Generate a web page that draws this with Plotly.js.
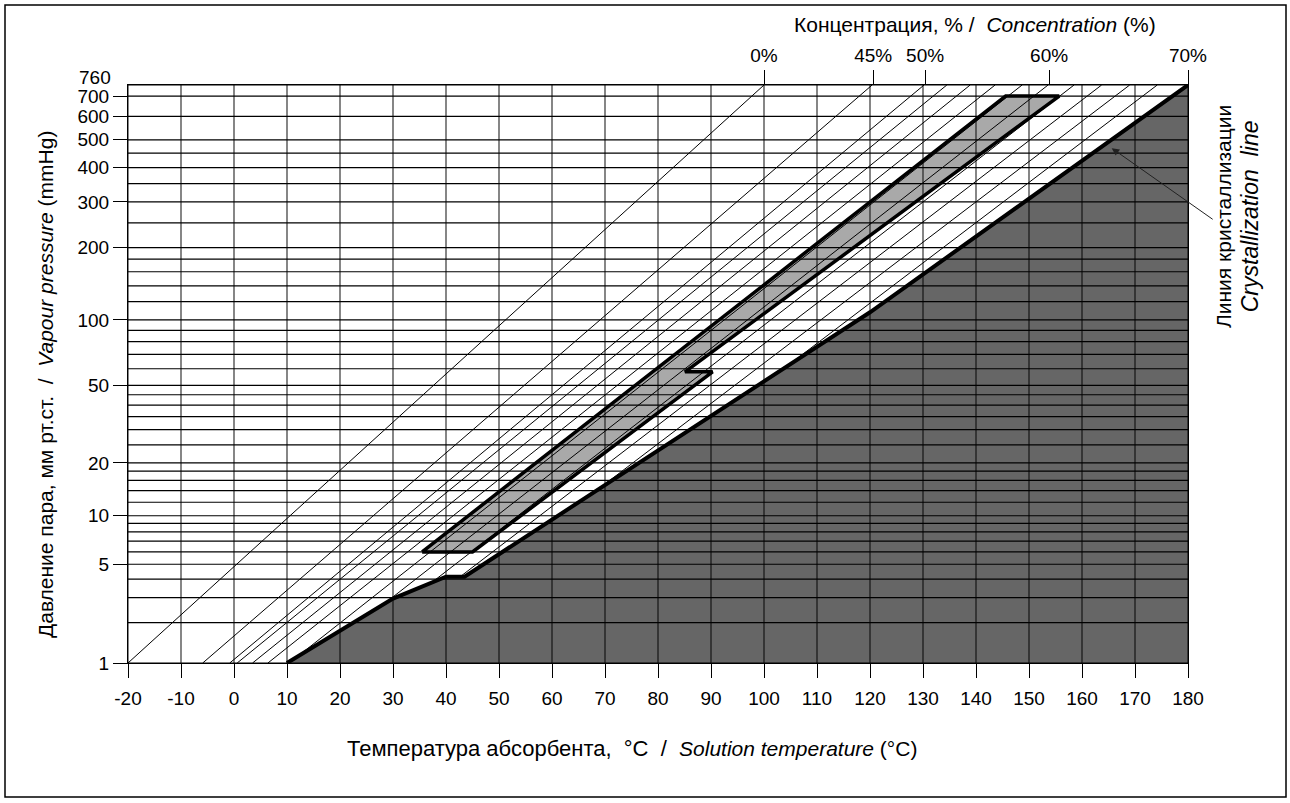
<!DOCTYPE html>
<html>
<head>
<meta charset="utf-8">
<script src="https://cdn.plot.ly/plotly-3.0.1.min.js"></script>
<style>
  html, body { margin: 0; padding: 0; background: #fff; }
  #chart { width: 1290px; height: 803px; }
</style>
</head>
<body>
<div id="chart"></div>
<script>
// ---------- DATA ----------
// x axis: solution temperature, °C
const xTickVals = [-20,-10,0,10,20,30,40,50,60,70,80,90,100,110,120,130,140,150,160,170,180];

// y axis: vapour pressure, mmHg (labelled and unlabelled grid lines)
const yLabelVals = [1,5,10,20,50,100,200,300,400,500,600,700];
const yGridMinor = [2,3,4,6,7,8,9,12,14,16,18,25,30,35,40,45,60,70,80,90,120,140,160,180,250,350,450,760];

// concentration (Dühring) lines: start point (T, P) and end temperature at P = 760 mmHg
const concPct    = [0, 45, 50, 52, 54, 56, 58, 60, 62, 64, 66, 68];
const concStartT = [-20, -5.9, -0.8, 0.6, 3.5, 6.4, 11.6, 27.2, 36.7, 42.7, 69.8, 105.9];
const concStartP = [1, 1, 1, 1, 1, 1, 1.09, 2.52, 3.65, 4.15, 15.1, 66];
const concEndT   = [100, 120.4, 130.2, 134.5, 138.9, 143.6, 148.7, 153.6, 158.5, 163.7, 169, 174.2];
const concEndP   = 760;

// top concentration scale labels
const topTickT    = [100, 120.6, 130.4, 153.8, 180];
const topTickText = ['0%', '45%', '50%', '60%', '70%'];

// crystallization line
const crystT = [10, 30, 40, 43.5, 120, 180];
const crystP = [1, 2.95, 4.15, 4.15, 108, 760];

// operating band (light grey polygon)
const bandT = [35.5, 45, 90.3, 85.1, 155.7, 145.6, 35.5];
const bandP = [6, 6, 58, 58, 700, 700, 6];

// ---------- PRESSURE SCALE ----------
// The chart's vertical scale is linear in water saturation temperature (Antoine equation, mmHg)
function yScale(p) { return 1730.63 / (8.07131 - Math.log10(p)) - 233.426; }

const FONT = 'Liberation Sans, Arial, sans-serif';
const Y0 = yScale(1), Y1 = yScale(760);

function pathFrom(ts, ps) {
  return ts.map((t, i) => (i ? 'L' : 'M') + t + ',' + yScale(ps[i])).join(' ') + ' Z';
}

const traces = [];

// thin concentration lines
const lx = [], ly = [];
for (let i = 0; i < concPct.length; i++) {
  lx.push(concStartT[i], concEndT[i], null);
  ly.push(yScale(concStartP[i]), yScale(concEndP), null);
}
traces.push({
  x: lx, y: ly, mode: 'lines', line: { color: '#000', width: 1 },
  hoverinfo: 'skip', showlegend: false
});

// crystallization line (thick)
traces.push({
  x: crystT, y: crystP.map(yScale), mode: 'lines',
  line: { color: '#000', width: 4 }, hoverinfo: 'skip', showlegend: false
});

// band border (thick)
traces.push({
  x: bandT, y: bandP.map(yScale), mode: 'lines',
  line: { color: '#000', width: 3.5 }, hoverinfo: 'skip', showlegend: false
});

// invisible trace to carry the top concentration axis
traces.push({
  x: [-20, 180], y: [Y0, Y0], xaxis: 'x2', mode: 'markers',
  marker: { opacity: 0 }, hoverinfo: 'skip', showlegend: false
});

const L = 128, R = 102, T = 85, B = 140, PW = 1060, PH = 578;
const px = v => (v - L) / PW;          // pixel -> paper x
const py = v => (803 - B - v) / PH;    // pixel -> paper y
const NB = '\u00A0';

// shapes: fills first, then the grid drawn above everything (as in the reference)
const shapes = [
  { type: 'path', xref: 'x', yref: 'y', layer: 'below',
    path: pathFrom(crystT.concat([180]), crystP.concat([1])),
    fillcolor: '#666666', line: { width: 0 } },
  { type: 'path', xref: 'x', yref: 'y', layer: 'below',
    path: pathFrom(bandT, bandP),
    fillcolor: '#a9a9a9', line: { width: 0 } }
];
xTickVals.forEach(v => shapes.push({
  type: 'line', xref: 'x', yref: 'y', layer: 'above',
  x0: v, x1: v, y0: Y0, y1: Y1,
  line: { color: 'rgba(0,0,0,0.6)', width: 1.6 }
}));
yLabelVals.concat(yGridMinor).forEach(p => shapes.push({
  type: 'line', xref: 'x', yref: 'y', layer: 'above',
  x0: -20, x1: 180, y0: yScale(p), y1: yScale(p),
  line: { color: '#000', width: 1.2 }
}));
shapes.push({ type: 'rect', xref: 'paper', yref: 'paper',
  x0: px(5), x1: px(1286), y0: py(797), y1: py(5),
  line: { color: '#000', width: 1.5 }, fillcolor: 'rgba(0,0,0,0)' });

const layout = {
  width: 1290, height: 803,
  margin: { l: L, r: R, t: T, b: B, pad: 0 },
  paper_bgcolor: '#fff', plot_bgcolor: '#fff',
  font: { family: FONT, size: 19, color: '#000' },
  showlegend: false,
  xaxis: {
    range: [-20, 180], tickmode: 'array', tickvals: xTickVals,
    ticktext: xTickVals.map(String),
    ticks: 'outside', ticklen: 14, tickcolor: '#000', tickwidth: 1, ticklabelstandoff: 4,
    showgrid: false, zeroline: false, showline: true, linecolor: '#000', linewidth: 1, mirror: true,
    tickfont: { family: FONT, size: 19 }, fixedrange: true
  },
  xaxis2: {
    overlaying: 'x', side: 'top', range: [-20, 180],
    tickmode: 'array', tickvals: topTickT, ticktext: topTickText,
    ticks: 'outside', ticklen: 14, tickcolor: '#000', tickwidth: 1,
    showgrid: false, zeroline: false, showline: false,
    tickfont: { family: FONT, size: 19 }, fixedrange: true
  },
  yaxis: {
    range: [Y0, Y1],
    tickmode: 'array', tickvals: yLabelVals.map(yScale), ticktext: yLabelVals.map(String),
    ticks: 'outside', ticklen: 14, tickcolor: '#000', tickwidth: 1,
    showgrid: false, zeroline: false, showline: true, linecolor: '#000', linewidth: 1, mirror: true,
    tickfont: { family: FONT, size: 19 }, fixedrange: true
  },
  annotations: [
    { xref: 'paper', yref: 'paper', x: px(113), y: py(78), xanchor: 'right', yanchor: 'middle',
      text: '760', showarrow: false, font: { family: FONT, size: 19 } },
    { xref: 'paper', yref: 'paper', x: px(632), y: py(748), xanchor: 'center', yanchor: 'middle',
      text: 'Температура абсорбента,' + NB + NB + '°C' + NB + NB + '/' + NB + NB +
            '<span style="font-size:21px"><i>Solution temperature</i>' + NB + '(°C)</span>',
      showarrow: false, font: { family: FONT, size: 22 } },
    { xref: 'paper', yref: 'paper', x: px(45), y: py(385), xanchor: 'center', yanchor: 'middle',
      textangle: -90, text: 'Давление пара, мм рт.ст.' + NB + NB + '/' + NB + NB + '<i>Vapour pressure</i> (mmHg)', showarrow: false,
      font: { family: FONT, size: 21 } },
    { xref: 'paper', yref: 'paper', x: px(975), y: py(24), xanchor: 'center', yanchor: 'middle',
      text: 'Концентрация, % /' + NB + NB + '<i>Concentration</i> (%)', showarrow: false,
      font: { family: FONT, size: 21 } },
    { xref: 'paper', yref: 'paper', x: px(1238), y: py(217), xanchor: 'center', yanchor: 'middle',
      textangle: -90,
      text: 'Линия кристаллизации<br><span style="font-size:23px"><i>Crystallization' + NB + NB + 'line</i></span>',
      showarrow: false, font: { family: FONT, size: 21 } },
    { xref: 'x', yref: 'y', x: 165.6, y: yScale(468), text: ' ', showarrow: true,
      arrowhead: 2, arrowsize: 1.5, arrowwidth: 1, arrowcolor: '#222', ax: 105, ay: 74 }
  ],
  shapes: shapes
};

Plotly.newPlot('chart', traces, layout, { displayModeBar: false, staticPlot: true });
</script>
</body>
</html>
